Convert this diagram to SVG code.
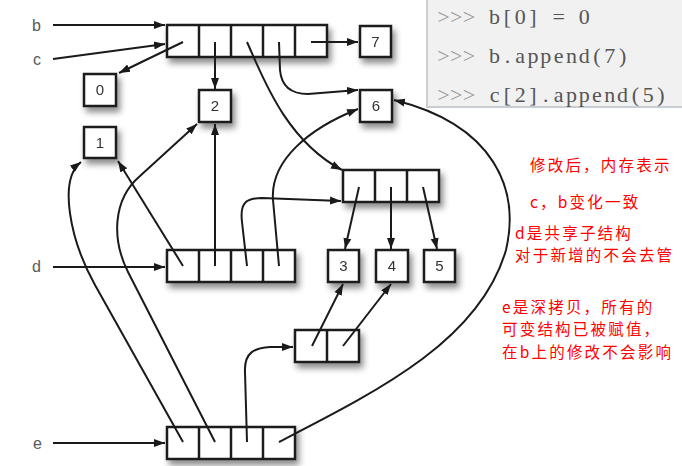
<svg xmlns="http://www.w3.org/2000/svg" width="682" height="466" viewBox="0 0 682 466">
<defs>
<filter id="sh" x="-30%" y="-30%" width="170%" height="180%">
<feDropShadow dx="3" dy="5" stdDeviation="3" flood-color="#000" flood-opacity="0.45"/>
</filter>
<marker id="ah" markerWidth="12" markerHeight="10" refX="11" refY="5" orient="auto" markerUnits="userSpaceOnUse">
<path d="M0,1 L11,5 L0,9 Z" fill="#1a1a1a"/>
</marker>
<style>
.box{fill:#fff;stroke:#1a1a1a;stroke-width:2.5}
.div{stroke:#1a1a1a;stroke-width:2.5}
.num{font-family:"Liberation Sans",Arial,sans-serif;font-size:15px;fill:#333;text-anchor:middle}
.var{font-family:"Liberation Sans",Arial,sans-serif;font-size:16px;fill:#5a5a5a}
.ln{fill:none;stroke:#1a1a1a;stroke-width:2}
.arr{marker-end:url(#ah)}
.code{font-family:"Liberation Serif","Times New Roman",serif;font-size:22px;fill:#555;text-anchor:middle}
.pr{fill:#9a9a9a}
.note{font-family:"Noto Sans CJK SC","Microsoft YaHei",sans-serif;font-size:15.5px;letter-spacing:2.2px;fill:#ff0000}
</style>
</defs>
<rect width="682" height="466" fill="#fff"/>

<g id="code">
<rect x="427" y="-3" width="258" height="110" fill="#f1f1f1" stroke="#c9ced4" stroke-width="2"/>
<text class="code" y="24"><tspan class="pr" x="443.4 456.2 469">&gt;&gt;&gt;</tspan><tspan x="481.8 494.6 507.4 520.2 533 545.8 558.6 571.4 584.2"> b[0] = 0</tspan></text>
<text class="code" y="63"><tspan class="pr" x="443.4 456.2 469">&gt;&gt;&gt;</tspan><tspan x="481.8 494.6 507.4 520.2 533 545.8 558.6 571.4 584.2 597 609.8 622.6"> b.append(7)</tspan></text>
<text class="code" y="102"><tspan class="pr" x="443.4 456.2 469">&gt;&gt;&gt;</tspan><tspan x="481.8 494.6 507.4 520.2 533 545.8 558.6 571.4 584.2 597 609.8 622.6 635.4 648.2 661">&#160;c[2].append(5)</tspan></text>
</g>

<g id="labels">
<text class="var" x="32" y="31">b</text>
<text class="var" x="33" y="65">c</text>
<text class="var" x="32" y="272">d</text>
<text class="var" x="33" y="449">e</text>
</g>

<g id="list_b" filter="url(#sh)">
<rect class="box" x="167" y="25" width="160" height="32"/>
<line class="div" x1="199" y1="25" x2="199" y2="57"/>
<line class="div" x1="231" y1="25" x2="231" y2="57"/>
<line class="div" x1="263" y1="25" x2="263" y2="57"/>
<line class="div" x1="295" y1="25" x2="295" y2="57"/>
</g>
<g id="n7" filter="url(#sh)"><rect class="box" x="360" y="26" width="31" height="31"/><text class="num" x="375.5" y="47">7</text></g>
<g id="n0" filter="url(#sh)"><rect class="box" x="84" y="74" width="32" height="32"/><text class="num" x="100" y="95">0</text></g>
<g id="n1" filter="url(#sh)"><rect class="box" x="84" y="127" width="32" height="31"/><text class="num" x="100" y="148">1</text></g>
<g id="n2" filter="url(#sh)"><rect class="box" x="199" y="90" width="32" height="32"/><text class="num" x="215" y="111">2</text></g>
<g id="n6" filter="url(#sh)"><rect class="box" x="360" y="90" width="32" height="32"/><text class="num" x="376" y="111">6</text></g>
<g id="sublist" filter="url(#sh)">
<rect class="box" x="343" y="170" width="96" height="32"/>
<line class="div" x1="375" y1="170" x2="375" y2="202"/>
<line class="div" x1="407" y1="170" x2="407" y2="202"/>
</g>
<g id="list_d" filter="url(#sh)">
<rect class="box" x="167" y="250" width="128" height="32"/>
<line class="div" x1="199" y1="250" x2="199" y2="282"/>
<line class="div" x1="231" y1="250" x2="231" y2="282"/>
<line class="div" x1="263" y1="250" x2="263" y2="282"/>
</g>
<g id="n3" filter="url(#sh)"><rect class="box" x="328" y="250" width="31" height="32"/><text class="num" x="343.5" y="271">3</text></g>
<g id="n4" filter="url(#sh)"><rect class="box" x="376" y="250" width="32" height="32"/><text class="num" x="392" y="271">4</text></g>
<g id="n5" filter="url(#sh)"><rect class="box" x="424" y="250" width="31" height="32"/><text class="num" x="439.5" y="271">5</text></g>
<g id="pair" filter="url(#sh)">
<rect class="box" x="295" y="330" width="64" height="32"/>
<line class="div" x1="327" y1="330" x2="327" y2="362"/>
</g>
<g id="list_e" filter="url(#sh)">
<rect class="box" x="167" y="427" width="128" height="32"/>
<line class="div" x1="199" y1="427" x2="199" y2="459"/>
<line class="div" x1="231" y1="427" x2="231" y2="459"/>
<line class="div" x1="263" y1="427" x2="263" y2="459"/>
</g>

<g id="connectors">
<path class="ln arr" d="M53,25 L165,25"/>
<path class="ln arr" d="M53,59 L165,44"/>
<path class="ln arr" d="M183,42 L119,73"/>
<path class="ln arr" d="M215,42 L215,89"/>
<path class="ln arr" d="M247,42 C262,75 285,140 342,170"/>
<path class="ln arr" d="M279,42 L280,70 Q282,94 308,94 L358,90"/>
<path class="ln arr" d="M311,42 L358,42"/>
<path class="ln arr" d="M53,267 L165,267"/>
<path class="ln arr" d="M183,266 L118,161"/>
<path class="ln arr" d="M215,266 L215,124"/>
<path class="ln arr" d="M247,266 L242,222 C240,205 244,198 262,198 L341,201"/>
<path class="ln arr" d="M279,266 L273,200 C270,160 310,128 358,109"/>
<path class="ln arr" d="M359,187 L345,249"/>
<path class="ln arr" d="M391,187 L391,249"/>
<path class="ln arr" d="M423,187 L437,249"/>
<path class="ln arr" d="M53,443 L165,443"/>
<path class="ln arr" d="M183,442 L95,285 C70,240 58,180 81,162"/>
<path class="ln arr" d="M215,442 L128,272 C112,240 112,200 140,176 L197,124"/>
<path class="ln arr" d="M247,442 L245,372 C244,352 255,348 270,347 L293,347"/>
<path class="ln arr" d="M279,442 C380,390 480,340 506,250 C520,190 495,125 394,100"/>
<path class="ln arr" d="M312,346 L343,284"/>
<path class="ln arr" d="M343,346 L391,284"/>
</g>

<g id="notes">
<text class="note" x="530" y="171">修改后，内存表示</text>
<text class="note" x="530" y="208">c，b变化一致</text>
<text class="note"><tspan x="515" y="238.5">d是共享子结构</tspan><tspan x="515" y="261">对于新增的不会去管</tspan></text>
<text class="note"><tspan x="502" y="312.5">e是深拷贝，所有的</tspan><tspan x="502" y="335">可变结构已被赋值，</tspan><tspan x="502" y="357.5">在b上的修改不会影响</tspan></text>
</g>
</svg>
